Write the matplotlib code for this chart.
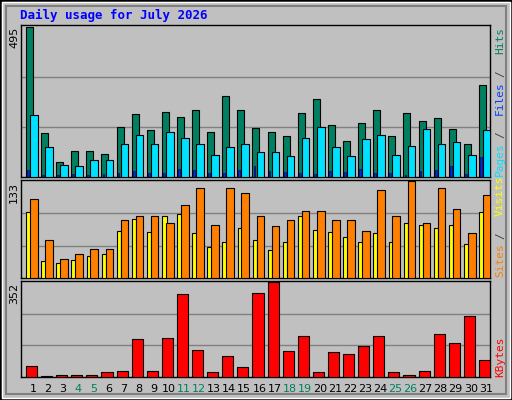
import matplotlib
matplotlib.use("Agg")
import matplotlib.pyplot as plt
from matplotlib.patches import Rectangle
import numpy as np

days = list(range(1, 32))
hits = [495,144,50,87,87,76,164,208,154,214,198,222,147,265,219,161,147,134,212,255,171,120,178,219,134,212,185,195,157,107,303]
files = [205,100,39,36,56,56,110,137,107,147,127,107,73,100,110,83,83,70,127,164,100,70,124,137,73,103,157,107,114,73,154]
pages = [22,6,6,9,6,9,12,19,12,12,26,22,12,12,22,36,19,16,12,9,19,16,26,12,12,6,19,22,36,9,66]
visits = [91,23,20,24,30,33,65,81,63,85,88,62,43,50,69,52,39,49,85,66,63,56,50,62,49,75,72,69,72,46,91]
sites = [108,52,26,33,40,40,79,85,85,75,100,124,72,124,117,85,71,79,92,92,79,79,65,121,85,133,76,124,95,62,114]
kbytes = [40,5,9,9,9,17,21,140,21,144,306,101,17,78,36,310,352,98,152,17,94,86,113,152,17,9,24,159,125,225,63]
weekends = [4,5,11,12,18,19,25,26]

W, H = 512, 400
fig = plt.figure(figsize=(5.12, 4.0), dpi=100, facecolor="#C0C0C0")
fig.patches.append(Rectangle((0, 0), 1, 1, transform=fig.transFigure, fill=False, ec="black", lw=2))
fig.patches.append(Rectangle((2/W, 2/H), 1-4/W, 1-4/H, transform=fig.transFigure, fill=False, ec="white", lw=1))
fig.patches.append(Rectangle((6/W, 6/H), 1-12/W, 1-12/H, transform=fig.transFigure, fill=False, ec="#808080", lw=1.5))

def ax_at(top, bottom):
    x0, x1 = 21, 490
    a = fig.add_axes([x0/W, 1-bottom/H, (x1-x0)/W, (bottom-top)/H])
    a.set_facecolor("#C0C0C0")
    a.set_xlim(0.21, 31.27)
    for s in a.spines.values():
        s.set_color("black"); s.set_linewidth(1)
    a.set_xticks([]); a.set_yticks([])
    return a

x = np.array(days)
kw = dict(align="edge", edgecolor="black", linewidth=0.8, zorder=3)

a1 = ax_at(25, 177)
m1 = max(hits)
a1.set_ylim(0, m1*1.01)
for g in (m1/3, 2*m1/3):
    a1.axhline(g, color="#808080", lw=1, zorder=1)
a1.bar(x-0.46, hits, 0.46, color="#008060", **kw)
a1.bar(x-0.19, files, 0.5, color="#00E0FF", **kw)
a1.bar(x-0.39, pages, 0.12, color="#0030E0", edgecolor="#000080", linewidth=0.5, align="edge", zorder=4)

a2 = ax_at(180, 278)
m2 = max(sites)
a2.set_ylim(0, m2*1.01)
for g in (m2/3, 2*m2/3):
    a2.axhline(g, color="#808080", lw=1, zorder=1)
a2.bar(x-0.45, visits, 0.3, color="#FFFF00", **kw)
a2.bar(x-0.19, sites, 0.5, color="#FF8000", **kw)

a3 = ax_at(281, 377)
m3 = max(kbytes)
a3.set_ylim(0, m3*1.01)
for g in (m3/3, 2*m3/3):
    a3.axhline(g, color="#808080", lw=1, zorder=1)
a3.bar(x-0.46, kbytes, 0.73, color="#FF0000", **kw)

mono = "DejaVu Sans Mono"
for d in days:
    a3.text(d, -0.12, str(d), transform=a3.get_xaxis_transform(), ha="center", va="center",
            fontsize=8, family="DejaVu Sans", color="#008060" if d in weekends else "black")

def ylab(top, val):
    fig.text(14/W, 1-top/H, str(val), rotation=90, ha="center", va="top", fontsize=8, family="DejaVu Sans")
ylab(27, m1); ylab(182, m2); ylab(283, m3)

def rlabel(bottom, parts):
    cw = 7.6
    pos = bottom
    for txt, col in parts:
        fig.text(500/W, 1-pos/H, txt.strip(), rotation=90, ha="center", va="bottom", fontsize=8,
                 family=mono, color=col)
        pos -= cw*len(txt)

rlabel(176, [("Pages", "#00E0FF"), (" / ", "#404040"), ("Files", "#0040FF"), (" / ", "#404040"), ("Hits", "#008060")])
rlabel(277, [("Sites", "#FF8000"), (" / ", "#404040"), ("Visits", "#FFFF00")])
rlabel(377, [("KBytes", "#FF0000")])

fig.text(20/W, 1-15/H, "Daily usage for July 2026", ha="left", va="center", fontsize=9,
         family=mono, weight="bold", color="#0000FF")

fig.savefig("out.png", dpi=100, facecolor=fig.get_facecolor())
